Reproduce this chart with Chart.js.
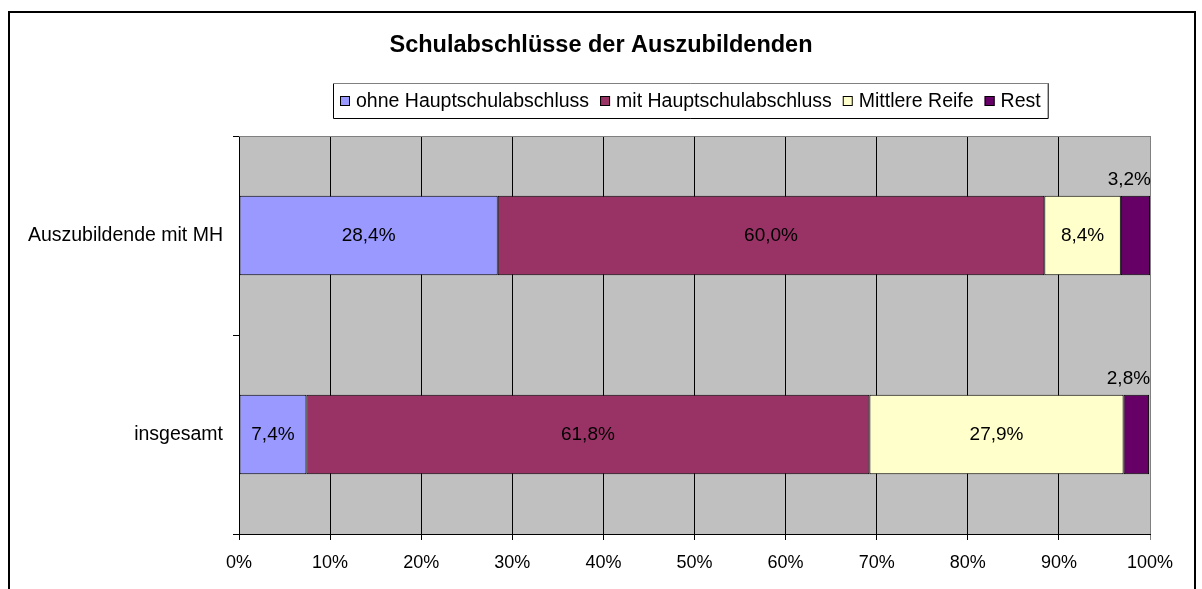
<!DOCTYPE html>
<html>
<head>
<meta charset="utf-8">
<script src="https://cdn.jsdelivr.net/npm/chart.js@4.4.0/dist/chart.umd.min.js"></script>
<style>
  html, body { margin: 0; padding: 0; background: #fff; }
  canvas { display: block; }
</style>
</head>
<body>
<canvas id="chart" width="1202" height="589"></canvas>
<script>
// ===== データ =====
const TITLE = 'Schulabschlüsse der Auszubildenden';
const CATEGORIES = ['Auszubildende mit MH', 'insgesamt'];
const SERIES_NAMES = ['ohne Hauptschulabschluss', 'mit Hauptschulabschluss', 'Mittlere Reife', 'Rest'];
const OHNE_HS = [28.4, 7.4];
const MIT_HS = [60.0, 61.8];
const MITTLERE_REIFE = [8.4, 27.9];
const REST = [3.2, 2.8];
const X_TICKS = [0, 10, 20, 30, 40, 50, 60, 70, 80, 90, 100];

const COLORS = ['#9999FF', '#993366', '#FFFFCC', '#660066'];
const FONT = '"Liberation Sans", Arial, sans-serif';

const fmt = v => v.toFixed(1).replace('.', ',') + '%';

// ===== 枠・タイトル・凡例・ラベル =====
const decor = {
  id: 'decor',
  beforeDraw(chart) {
    const { ctx, chartArea: a } = chart;
    ctx.save();
    ctx.fillStyle = '#fff';
    ctx.fillRect(0, 0, chart.width, chart.height);
    ctx.fillStyle = '#C0C0C0';
    ctx.fillRect(a.left, a.top, a.right - a.left, a.bottom - a.top);
    ctx.restore();
  },
  afterDatasetsDraw(chart) {
    const { ctx } = chart;
    ctx.save();
    ctx.font = '19px ' + FONT;
    ctx.fillStyle = '#000';
    ctx.textBaseline = 'middle';
    const last = chart.data.datasets.length - 1;
    chart.data.datasets.forEach((ds, i) => {
      chart.getDatasetMeta(i).data.forEach((bar, j) => {
        const v = ds.data[j];
        if (i === last) {
          // schmaler Rest: Beschriftung über dem Balken
          ctx.textAlign = 'right';
          ctx.fillText(fmt(v), bar.x + 1, bar.y - bar.height / 2 - 16);
        } else {
          ctx.textAlign = 'center';
          ctx.fillText(fmt(v), (bar.x + bar.base) / 2, bar.y);
        }
      });
    });
    ctx.restore();
  },
  afterDraw(chart) {
    const { ctx, chartArea: a } = chart;
    ctx.save();
    // äußerer Rahmen
    ctx.strokeStyle = '#000';
    ctx.lineWidth = 2;
    ctx.strokeRect(9, 12, 1186, 600);
    // obere Kante der Zeichenfläche
    ctx.lineWidth = 1;
    ctx.strokeStyle = '#808080';
    ctx.beginPath();
    ctx.moveTo(a.left, a.top + 0.5);
    ctx.lineTo(a.right, a.top + 0.5);
    ctx.stroke();

    // Titel
    ctx.fillStyle = '#000';
    ctx.font = 'bold 23.5px ' + FONT;
    ctx.textAlign = 'center';
    ctx.textBaseline = 'alphabetic';
    ctx.fillText(TITLE, 601, 52);

    // Legende
    ctx.font = '19.5px ' + FONT;
    ctx.textAlign = 'left';
    ctx.textBaseline = 'middle';
    const box = 10, gapIn = 6, gapOut = 11, padX = 7;
    let w = padX * 2;
    SERIES_NAMES.forEach((n, i) => {
      w += box + gapIn + ctx.measureText(n).width + (i < SERIES_NAMES.length - 1 ? gapOut : 0);
    });
    const lx = 333, ly = 83, lh = 35;
    ctx.strokeStyle = '#000';
    ctx.beginPath();
    ctx.moveTo(lx + 0.5, ly);
    ctx.lineTo(lx + 0.5, ly + lh + 0.5);
    ctx.lineTo(lx + w + 0.5, ly + lh + 0.5);
    ctx.lineTo(lx + w + 0.5, ly);
    ctx.stroke();
    ctx.strokeStyle = '#808080';
    ctx.beginPath();
    ctx.moveTo(lx, ly + 0.5);
    ctx.lineTo(lx + w + 1, ly + 0.5);
    ctx.stroke();

    let x = lx + padX;
    const cy = ly + lh / 2 + 0.5;
    SERIES_NAMES.forEach((n, i) => {
      ctx.fillStyle = COLORS[i];
      ctx.fillRect(x, cy - box / 2, box, box);
      ctx.strokeStyle = '#000';
      ctx.strokeRect(x + 0.5, cy - box / 2 + 0.5, box - 1, box - 1);
      ctx.fillStyle = '#000';
      ctx.fillText(n, x + box + gapIn, cy + 1);
      x += box + gapIn + ctx.measureText(n).width + gapOut;
    });
    ctx.restore();
  }
};

// ===== グラフ =====
Chart.defaults.font.family = FONT;
Chart.defaults.font.size = 18;
Chart.defaults.color = '#000';

const seriesData = [OHNE_HS, MIT_HS, MITTLERE_REIFE, REST];

new Chart(document.getElementById('chart'), {
  type: 'bar',
  data: {
    labels: CATEGORIES,
    datasets: SERIES_NAMES.map((name, i) => ({
      label: name,
      data: seriesData[i],
      backgroundColor: COLORS[i],
      borderColor: '#000',
      borderWidth: 1,
      borderSkipped: false,
      categoryPercentage: 1,
      barPercentage: 0.4
    }))
  },
  options: {
    indexAxis: 'y',
    responsive: false,
    devicePixelRatio: 1,
    animation: false,
    layout: { padding: { top: 136, right: 52, left: 0, bottom: 0 } },
    plugins: {
      legend: { display: false },
      title: { display: false },
      tooltip: { enabled: false }
    },
    scales: {
      x: {
        stacked: true,
        min: 0,
        max: 100,
        afterBuildTicks: s => { s.ticks = X_TICKS.map(v => ({ value: v })); },
        afterFit: s => { s.height = 55; },
        ticks: { callback: v => v + '%', padding: 12, maxRotation: 0, font: { size: 18 } },
        grid: {
          color: ctx => (ctx.tick && ctx.tick.value === 100 ? '#808080' : '#000'),
          tickLength: 6,
          lineWidth: 1
        },
        border: { color: '#000' }
      },
      y: {
        stacked: true,
        afterFit: s => { s.width = 239; },
        ticks: { padding: 10, font: { size: 19.5 } },
        grid: {
          offset: true,
          drawOnChartArea: false,
          tickLength: 6,
          color: '#000'
        },
        border: { color: '#000' }
      }
    }
  },
  plugins: [decor]
});
</script>
</body>
</html>
